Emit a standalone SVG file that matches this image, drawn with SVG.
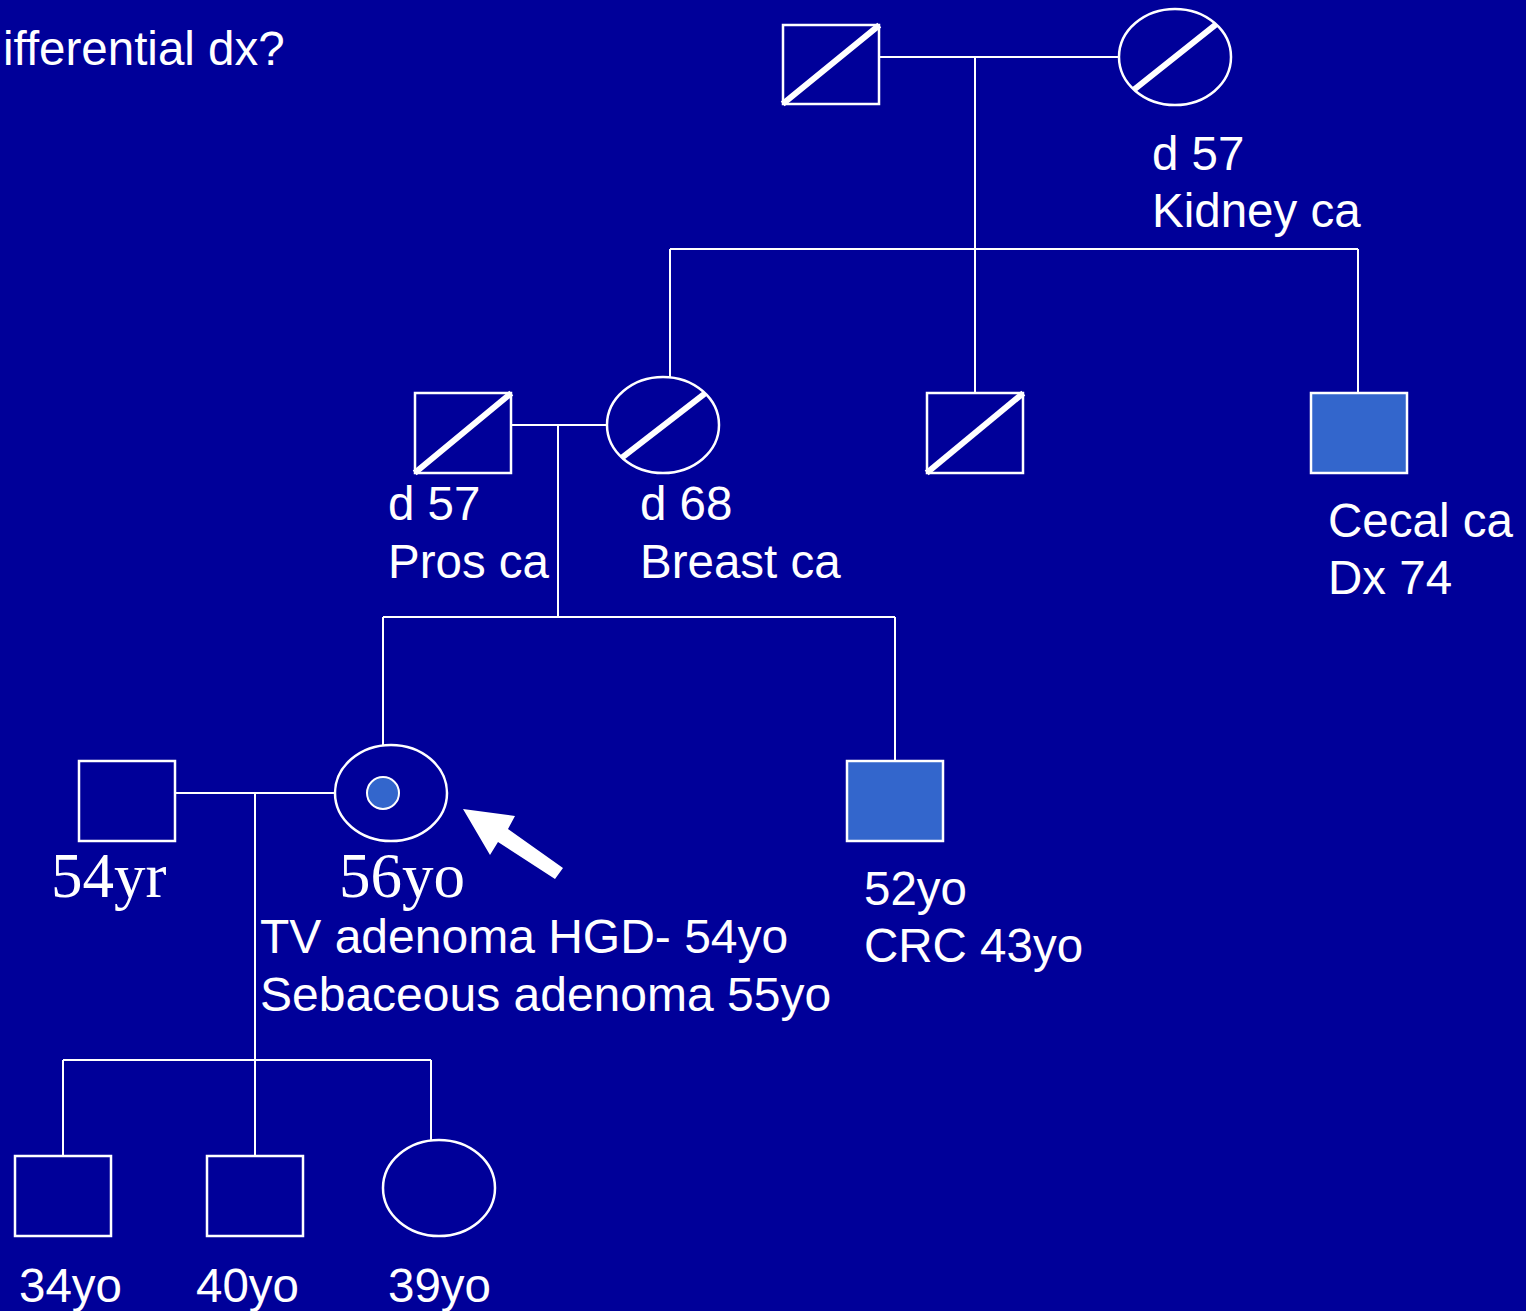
<svg xmlns="http://www.w3.org/2000/svg" width="1526" height="1311" viewBox="0 0 1526 1311">
<style>
.ln{stroke:#fff;stroke-width:2;fill:none}
.sh{stroke:#fff;stroke-width:2.5;fill:none}
.aff{stroke:#fff;stroke-width:2.5;fill:#3366cc}
.sl{stroke:#fff;stroke-width:6;stroke-linecap:square}
.t{font-family:"Liberation Sans",Arial,sans-serif;font-size:47.5px;fill:#fff}
.tw{font-size:48px}
.s{font-family:"Liberation Serif","Times New Roman",serif;font-size:63px;fill:#fff}
</style>
<rect width="1526" height="1311" fill="#000099"/>
<text class="t" x="3" y="65">ifferential dx?</text>
<g id="connectors">
<line class="ln" x1="879" y1="57" x2="1118" y2="57"/>
<line class="ln" x1="975" y1="57" x2="975" y2="393"/>
<line class="ln" x1="670" y1="249" x2="1358" y2="249"/>
<line class="ln" x1="670" y1="249" x2="670" y2="377"/>
<line class="ln" x1="1358" y1="249" x2="1358" y2="393"/>
<line class="ln" x1="511" y1="425" x2="607" y2="425"/>
<line class="ln" x1="558" y1="425" x2="558" y2="617"/>
<line class="ln" x1="383" y1="617" x2="895" y2="617"/>
<line class="ln" x1="383" y1="617" x2="383" y2="745"/>
<line class="ln" x1="895" y1="617" x2="895" y2="761"/>
<line class="ln" x1="175" y1="793" x2="335" y2="793"/>
<line class="ln" x1="255" y1="793" x2="255" y2="1156"/>
<line class="ln" x1="63" y1="1060" x2="431" y2="1060"/>
<line class="ln" x1="63" y1="1060" x2="63" y2="1156"/>
<line class="ln" x1="431" y1="1060" x2="431" y2="1140"/>
</g>
<g id="gf">
<rect class="sh" x="783" y="25" width="96" height="79"/>
<line class="sl" x1="785" y1="102" x2="877" y2="27"/>
</g>
<g id="gm">
<ellipse class="sh" cx="1175" cy="57" rx="56" ry="48"/>
<line class="sl" x1="1136" y1="88" x2="1214" y2="26"/>
<text class="t" x="1152" y="170">d 57</text>
<text class="t" x="1152" y="227">Kidney ca</text>
</g>
<g id="father">
<rect class="sh" x="415" y="393" width="96" height="80"/>
<line class="sl" x1="417" y1="471" x2="509" y2="395"/>
<text class="t" x="388" y="520">d 57</text>
<text class="t" x="388" y="578">Pros ca</text>
</g>
<g id="mother">
<ellipse class="sh" cx="663" cy="425" rx="56" ry="48"/>
<line class="sl" x1="624" y1="456" x2="703" y2="395"/>
<text class="t" x="640" y="520">d 68</text>
<text class="t" x="640" y="578">Breast ca</text>
</g>
<g id="uncle1">
<rect class="sh" x="927" y="393" width="96" height="80"/>
<line class="sl" x1="929" y1="471" x2="1021" y2="395"/>
</g>
<g id="uncle2">
<rect class="aff" x="1311" y="393" width="96" height="80"/>
<text class="t" x="1328" y="537">Cecal ca</text>
<text class="t" x="1328" y="594">Dx 74</text>
</g>
<g id="husband">
<rect class="sh" x="79" y="761" width="96" height="80"/>
<text class="s" x="51" y="897">54yr</text>
</g>
<g id="proband">
<ellipse class="sh" cx="391" cy="793" rx="56" ry="48"/>
<circle cx="383" cy="793" r="16" fill="#3366cc" stroke="#fff" stroke-width="2"/>
<text class="s" x="339" y="897">56yo</text>
<text class="t tw" x="260" y="953">TV adenoma HGD- 54yo</text>
<text class="t tw" x="260" y="1011">Sebaceous adenoma 55yo</text>
</g>
<g id="arrow">
<polygon fill="#fff" points="463,809 515,816 508,829 563,868 555,879 498,842 490,855"/>
</g>
<g id="brother">
<rect class="aff" x="847" y="761" width="96" height="80"/>
<text class="t" x="864" y="905">52yo</text>
<text class="t" x="864" y="962">CRC 43yo</text>
</g>
<g id="child1">
<rect class="sh" x="15" y="1156" width="96" height="80"/>
<text class="t" x="19" y="1302">34yo</text>
</g>
<g id="child2">
<rect class="sh" x="207" y="1156" width="96" height="80"/>
<text class="t" x="196" y="1302">40yo</text>
</g>
<g id="child3">
<ellipse class="sh" cx="439" cy="1188" rx="56" ry="48"/>
<text class="t" x="388" y="1302">39yo</text>
</g>
</svg>
